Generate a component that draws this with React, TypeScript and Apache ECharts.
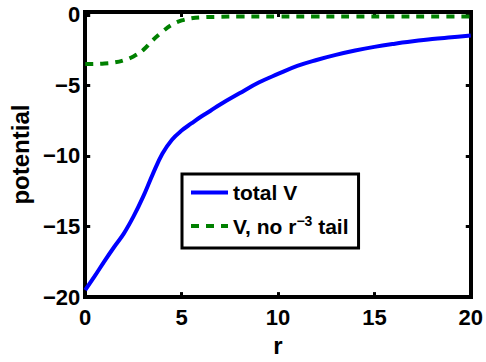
import React, { useEffect, useRef } from "react";
import * as echarts from "echarts";

const rTotal = [0, 0.5, 1, 1.5, 2, 2.5, 3, 3.5, 4, 4.5, 5, 5.5, 6, 6.5, 7, 8, 9, 10, 11, 12, 13, 14, 15, 16, 17, 18, 19, 20];
const vTotal = [-19.5, -18.5, -17.45, -16.45, -15.5, -14.3, -12.9, -11.3, -9.85, -8.85, -8.2, -7.7, -7.22, -6.8, -6.35, -5.56, -4.8, -4.19, -3.62, -3.2, -2.84, -2.53, -2.27, -2.06, -1.88, -1.72, -1.59, -1.46];

const rNoTail = [0, 0.5, 1, 1.5, 2, 2.5, 3, 3.5, 4, 4.5, 5, 5.5, 6, 7, 8, 10, 12, 14, 16, 18, 20];
const vNoTail = [-3.49, -3.48, -3.45, -3.38, -3.22, -2.95, -2.5, -1.8, -1.2, -0.7, -0.4, -0.25, -0.18, -0.14, -0.12, -0.12, -0.12, -0.12, -0.12, -0.12, -0.12];

const xTicks = [0, 5, 10, 15, 20];
const yTicks = [-20, -15, -10, -5, 0];

const seriesNames = ["total V", "V, no r^-3 tail"];
const seriesColors = ["#0000ff", "#008000"];

const FONT = "'Liberation Sans', Arial, Helvetica, sans-serif";

export default function App() {
  const ref = useRef<HTMLDivElement>(null);
  useEffect(() => {
    document.body.style.margin = "0";
    if (!ref.current) return;
    const chart = echarts.init(ref.current, undefined, { renderer: "svg" });
    const fmt = (v: number, ticks: number[]) =>
      ticks.includes(v) ? String(v).replace("-", "\u2212") : "";
    const labelStyle = {
      fontFamily: FONT,
      fontWeight: "bold" as const,
      fontSize: 22,
      color: "#000",
    };
    const tickStyle = { show: true, inside: true, length: 5, lineStyle: { color: "#000", width: 3 } };
    const lineStyle = { show: true, onZero: false, lineStyle: { color: "#000", width: 4, cap: "square" } };
    chart.setOption({
      animation: false,
      grid: {
        left: 84,
        right: 15,
        top: 12,
        bottom: 51,
        show: true,
        borderWidth: 0,
        backgroundColor: "#fff",
      },
      xAxis: [
        {
          type: "value",
          min: 0,
          max: 20,
          interval: 5,
          position: "bottom",
          name: "r",
          nameLocation: "middle",
          nameGap: 28,
          nameTextStyle: { ...labelStyle, fontSize: 24 },
          axisLine: lineStyle,
          axisTick: tickStyle,
          splitLine: { show: false },
          axisLabel: { ...labelStyle, margin: 9, formatter: (v: number) => fmt(v, xTicks) },
        },
        {
          type: "value",
          min: 0,
          max: 20,
          interval: 5,
          position: "top",
          axisLine: lineStyle,
          axisTick: tickStyle,
          splitLine: { show: false },
          axisLabel: { show: false },
        },
      ],
      yAxis: [
        {
          type: "value",
          min: -20,
          max: 0.2,
          interval: 5,
          position: "left",
          name: "potential",
          nameLocation: "middle",
          nameGap: 52,
          nameTextStyle: { ...labelStyle, fontSize: 24 },
          axisLine: lineStyle,
          axisTick: tickStyle,
          splitLine: { show: false },
          axisLabel: { ...labelStyle, margin: 5, formatter: (v: number) => fmt(v, yTicks) },
        },
        {
          type: "value",
          min: -20,
          max: 0.2,
          interval: 5,
          position: "right",
          axisLine: lineStyle,
          axisTick: tickStyle,
          splitLine: { show: false },
          axisLabel: { show: false },
        },
      ],
      legend: {
        orient: "vertical",
        left: 182,
        top: 174,
        backgroundColor: "#fff",
        borderColor: "#000",
        borderWidth: 3,
        padding: [8, 10, 10, 7],
        itemWidth: 37,
        itemHeight: 14,
        itemGap: 11,
        itemStyle: { opacity: 0 },
        lineStyle: { width: 4 },
        data: seriesNames,
        formatter: (name: string) =>
          name === seriesNames[1] ? "{a|V, no r}{s|\u22123}{a| tail}" : "{a|total V}",
        textStyle: {
          fontFamily: FONT,
          fontWeight: "bold",
          fontSize: 21,
          color: "#000",
          rich: {
            a: { fontFamily: FONT, fontWeight: "bold", fontSize: 21, lineHeight: 24, color: "#000" },
            s: { fontFamily: FONT, fontWeight: "bold", fontSize: 14, lineHeight: 24, verticalAlign: "top", padding: [0, 0, 10, 0], color: "#000" },
          },
        },
      },
      series: [
        {
          name: seriesNames[0],
          type: "line",
          data: rTotal.map((r, i) => [r, vTotal[i]]),
          smooth: 0.4,
          symbol: "none",
          lineStyle: { color: seriesColors[0], width: 4 },
          itemStyle: { color: seriesColors[0] },
          z: 3,
        },
        {
          name: seriesNames[1],
          type: "line",
          data: rNoTail.map((r, i) => [r, vNoTail[i]]),
          smooth: 0.4,
          symbol: "none",
          lineStyle: { color: seriesColors[1], width: 4, type: [8, 7], cap: "butt" },
          itemStyle: { color: seriesColors[1] },
          z: 2,
        },
      ],
    });
    return () => chart.dispose();
  }, []);
  return <div ref={ref} style={{ width: 486, height: 362 }} />;
}
